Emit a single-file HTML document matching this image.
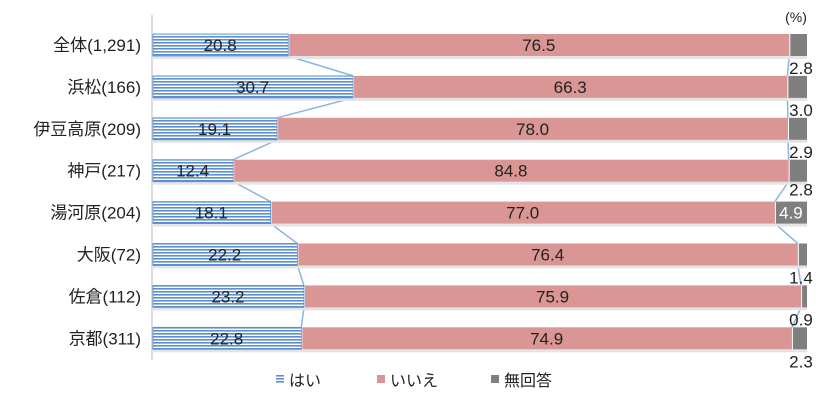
<!DOCTYPE html>
<html><head><meta charset="utf-8"><style>
body{margin:0;background:#fff;}
svg{display:block;font-family:"Liberation Sans","Noto Sans CJK JP",sans-serif;}
</style></head><body>
<svg width="827" height="414" viewBox="0 0 827 414">
<defs>
<pattern id="hatch" width="4" height="3" patternUnits="userSpaceOnUse">
<rect width="4" height="3" fill="#fff"/><rect width="4" height="1.6" fill="#5b8fd0"/>
</pattern>
</defs>
<g id="chart"></g>
<text x="796" y="22" font-size="14" fill="#222" text-anchor="middle">(%)</text>
<g>
<g><rect x="276" y="375" width="8" height="8" fill="url(#hatch)"/><text x="289" y="386" font-size="16" fill="#222">はい</text></g>
<g><rect x="377" y="375" width="8" height="8" fill="#d99694"/><text x="390" y="386" font-size="16" fill="#222">いいえ</text></g>
<g><rect x="491" y="375" width="8" height="8" fill="#7f7f7f"/><text x="504" y="386" font-size="16" fill="#222">無回答</text></g>
</g>
</svg>
<script>
const categories=["全体(1,291)","浜松(166)","伊豆高原(209)","神戸(217)","湯河原(204)","大阪(72)","佐倉(112)","京都(311)"];
const yes=[20.8,30.7,19.1,12.4,18.1,22.2,23.2,22.8];
const no=[76.5,66.3,78.0,84.8,77.0,76.4,75.9,74.9];
const na=[2.8,3.0,2.9,2.8,4.9,1.4,0.9,2.3];
const NS="http://www.w3.org/2000/svg";
const g=document.getElementById('chart');
const x0=152,x1=807,top0=34,step=41.9,bh=22;
const X=v=>x0+(x1-x0)*v/100;
const Y=i=>top0+i*step;
function mk(t,a){const e=document.createElementNS(NS,t);for(const k in a)e.setAttribute(k,a[k]);g.appendChild(e);return e;}
const ax=mk('line',{x1:x0,y1:15,x2:x0,y2:360,stroke:'#bbb','stroke-width':1});


for(let i=0;i<categories.length-1;i++){
  const a=X(yes[i]),b=X(yes[i+1]);
  const l1=mk('line',{x1:a,y1:Y(i)+bh,x2:b,y2:Y(i+1),stroke:'#8fb4e3','stroke-width':1.5});
  
  
  const c=X(yes[i]+no[i]),d=X(yes[i+1]+no[i+1]);
  const l2=mk('line',{x1:c,y1:Y(i)+bh,x2:d,y2:Y(i+1),stroke:'#8fb4e3','stroke-width':1.5});
  
  
}
categories.forEach((c,i)=>{
  const y=Y(i);
  const sh=mk('rect',{x:x0,y:y+bh,width:x1-x0,height:3,fill:'#e4e4e4'});
  
  
  const lab=mk('text',{x:141,y:y+bh/2+6,'font-size':17,'text-anchor':'end',fill:'#222'});
  lab.textContent=c;
  
  
  const r1=mk('rect',{x:x0+1,y:y,width:X(yes[i])-x0-1,height:bh,fill:'url(#hatch)',stroke:'#5b8fd0','stroke-width':0.8});
  
  
  const r2=mk('rect',{x:X(yes[i])+1,y:y,width:X(yes[i]+no[i])-X(yes[i])-1,height:bh,fill:'#d99694'});
  
  
  const r3=mk('rect',{x:X(yes[i]+no[i])+1,y:y,width:Math.max(0,X(100)-X(yes[i]+no[i])-1),height:bh,fill:'#7f7f7f'});
  
  
  const t1=mk('text',{x:(x0+X(yes[i]))/2,y:y+bh/2+6,'font-size':17,'text-anchor':'middle',fill:'#222'});
  t1.textContent=yes[i].toFixed(1);
  
  
  const t2=mk('text',{x:(X(yes[i])+X(yes[i]+no[i]))/2,y:y+bh/2+6,'font-size':17,'text-anchor':'middle',fill:'#222'});
  t2.textContent=no[i].toFixed(1);
  
  
  const inside=na[i]>=4;
  const t3=mk('text',{x:inside?(X(yes[i]+no[i])+x1)/2:801,y:inside?y+bh/2+6:(i===3?y+bh+14:y+bh+18),'font-size':17,'text-anchor':'middle',fill:inside?'#fff':'#222'});
  t3.textContent=na[i].toFixed(1);
  
  
});
</script>
</body></html>
